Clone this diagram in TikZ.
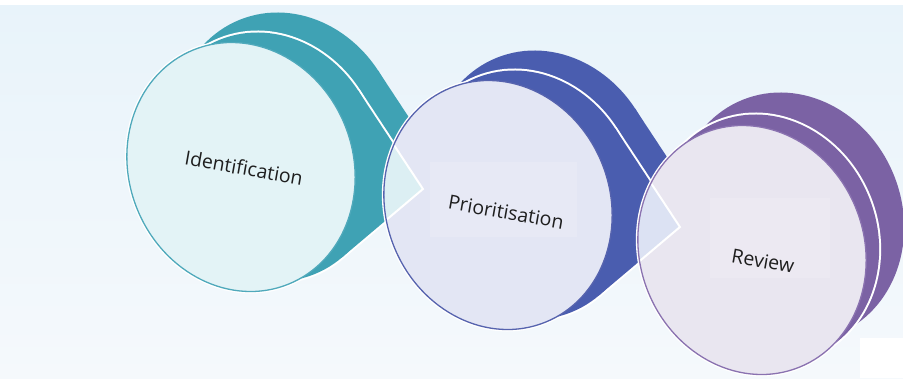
\documentclass[tikz,border=0pt]{standalone}
\usepackage{fontspec}
\setmainfont{Open Sans}
\begin{document}
\begin{tikzpicture}[x=1pt,y=-1pt]
% palette
\definecolor{bgtop}{HTML}{E8F3FA}
\definecolor{bgbot}{HTML}{F5F9FC}
\definecolor{tealband}{HTML}{3FA2B4}
\definecolor{teallight}{HTML}{E3F3F6}
\definecolor{tealline}{HTML}{4FA9BB}
\definecolor{tealtip}{HTML}{DCEFF3}
\definecolor{blueband}{HTML}{4A5DAF}
\definecolor{bluelight}{HTML}{E3E6F4}
\definecolor{blueline}{HTML}{5663AE}
\definecolor{bluetip}{HTML}{DCE2F3}
\definecolor{purpleband}{HTML}{7B62A4}
\definecolor{purplelight}{HTML}{E9E6F0}
\definecolor{purpleline}{HTML}{8A72B0}
\definecolor{textc}{HTML}{1E1E1E}
\tikzset{
  disc/.style 2 args={shift={(#1,#2)}, rotate=22, xscale=1.12, yscale=1.264},
  halo/.style={draw=white, line width=4pt},
  rim/.style={line width=1.3pt},
  lbl/.style={font=\fontsize{19.5}{22}\selectfont, text=textc, rotate=-10, inner sep=0pt},
  textbox/.style={fill=white, fill opacity=0.15, draw=none}
}
\useasboundingbox (0,0) rectangle (903,378);
% background
\shade[top color=bgtop, bottom color=bgbot] (0,0) rectangle (903,378);
\fill[white] (0,0) rectangle (903,5);
\fill[white] (860,338) rectangle (903,378);

% ---------- stage 1: Identification ----------
% back plate
\begin{scope}[disc={287}{137}]
  \fill[tealband] (0,0) circle[radius=100pt];
  \fill[tealband] (-12.8:100) -- (118.4,69.7) -- (73.8:100) -- cycle;
\end{scope}
\draw[disc={241}{167}, halo] (0,0) circle[radius=100pt];
% side wall with pointer
\begin{scope}[disc={267}{157}]
  \draw[white, line width=4pt] (0,0) circle[radius=100pt];
  \draw[white, line width=4pt] (-12.8:100) -- (118.4,69.7) -- (73.8:100);
  \fill[tealband] (0,0) circle[radius=100pt];
  \fill[tealband] (-12.8:100) -- (118.4,69.7) -- (73.8:100) -- cycle;
\end{scope}
% face
\fill[disc={241}{167}, teallight] (0,0) circle[radius=100pt];
\draw[disc={241}{167}, rim, tealline] (0,0) circle[radius=100pt];

% ---------- stage 2: Prioritisation ----------
\begin{scope}[disc={544}{175}]
  \fill[blueband] (0,0) circle[radius=100pt];
  \fill[blueband] (-12.8:100) -- (118.4,69.7) -- (73.8:100) -- cycle;
\end{scope}
\draw[disc={498}{205}, halo] (0,0) circle[radius=100pt];
\begin{scope}[disc={524}{195}]
  \draw[white, line width=4pt] (0,0) circle[radius=100pt];
  \draw[white, line width=4pt] (-12.8:100) -- (118.4,69.7) -- (73.8:100);
  \fill[blueband] (0,0) circle[radius=100pt];
  \fill[blueband] (-12.8:100) -- (118.4,69.7) -- (73.8:100) -- cycle;
\end{scope}
\fill[disc={498}{205}, bluelight] (0,0) circle[radius=100pt];
% pointer tip of stage 1 over the face of stage 2
\begin{scope}
  \clip[disc={498}{205}] (0,0) circle[radius=100pt];
  \filldraw[disc={267}{157}, fill=tealtip, draw=white, line width=2pt]
    (-12.8:100) -- (118.4,69.7) -- (73.8:100) -- cycle;
\end{scope}
\draw[disc={498}{205}, rim, blueline] (0,0) circle[radius=100pt];

% ---------- stage 3: Review ----------
\begin{scope}[disc={790}{217}]
  \fill[purpleband] (0,0) circle[radius=100pt];
\end{scope}
\draw[disc={752}{250}, halo] (0,0) circle[radius=100pt];
\begin{scope}[disc={765}{239}]
  \draw[white, line width=4pt] (0,0) circle[radius=100pt];
  \fill[purpleband] (0,0) circle[radius=100pt];
\end{scope}
\fill[disc={752}{250}, purplelight] (0,0) circle[radius=100pt];
% pointer tip of stage 2 over the face of stage 3
\begin{scope}
  \clip[disc={752}{250}] (0,0) circle[radius=100pt];
  \filldraw[disc={524}{195}, fill=bluetip, draw=white, line width=2pt]
    (-12.8:100) -- (118.4,69.7) -- (73.8:100) -- cycle;
\end{scope}
\draw[disc={752}{250}, rim, purpleline] (0,0) circle[radius=100pt];

% label boxes and labels
\fill[textbox] (430,162) rectangle (577,237);
\fill[textbox] (710,198) rectangle (830,278);
\node[lbl] (t1) at (244,168) {Identification};
\node[lbl] (t2) at (506,212) {Prioritisation};
\node[lbl] (t3) at (763,261) {Review};
\end{tikzpicture}
\end{document}
